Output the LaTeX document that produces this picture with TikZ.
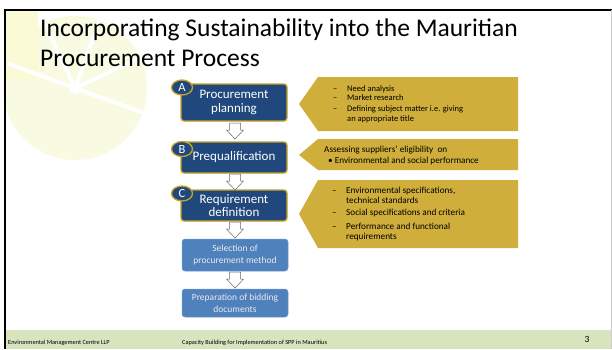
\documentclass[tikz,border=0pt]{standalone}
\usepackage{fontspec}
\setmainfont{Carlito}
\usetikzlibrary{shapes.geometric}
\definecolor{darkblue}{RGB}{33,72,125}
\definecolor{goldline}{RGB}{201,162,39}
\definecolor{lightblue}{RGB}{79,129,189}
\definecolor{calloutgold}{RGB}{207,174,59}
\definecolor{footergreen}{RGB}{215,228,189}
\definecolor{leafyellow}{RGB}{248,250,226}
\definecolor{leafyellow2}{RGB}{250,250,215}
\begin{document}
\begin{tikzpicture}[x=1pt,y=-1pt,
  darkbox/.style={draw=goldline, line width=1.3pt, fill=darkblue, rounded corners=3pt,
    text=white, align=center, font=\fontsize{13}{14.5}\selectfont, inner sep=0pt,
    minimum width=106pt},
  lightbox/.style={draw=lightblue!80!white, line width=0.5pt, fill=lightblue, rounded corners=3pt,
    text=white!92!black, align=center, font=\fontsize{9.5}{11.5}\selectfont, inner sep=0pt,
    minimum width=106pt},
  letterbadge/.style={ellipse, draw=goldline, line width=1.3pt, fill=darkblue, text=white,
    inner sep=0pt, minimum width=21pt, minimum height=15pt, font=\fontsize{12.5}{12.5}\selectfont},
  ctext/.style={anchor=base west, inner sep=0pt, text=black, font=\fontsize{8.5}{9}\selectfont},
  ctextb/.style={anchor=base west, inner sep=0pt, text=black, font=\fontsize{9.2}{10}\selectfont},
  hollowarrow/.pic={\draw[gray!80!black, fill=white, line width=0.5pt]
    (-5.5,0) -- (5.5,0) -- (5.5,7) -- (8.5,7) -- (0,16) -- (-8.5,7) -- (-5.5,7) -- cycle;},
]
\useasboundingbox (0,0) rectangle (612,349);
\fill[white] (0,0) rectangle (612,349);
% watermark leaf
\fill[leafyellow] (75,88) circle (72);
\fill[leafyellow2] (4,10) rectangle (38,80);
\foreach \a in {200,245,290,335,20}
  \draw[white, line width=4pt] (75,88) -- ++(\a:72);
\fill[white] (75,88) circle (6);
% footer
\fill[footergreen] (4,330) rectangle (612,349);
% frame
\draw[black, line width=2pt] (4.5,349) -- (4.5,9.5) -- (612,9.5);
\draw[gray!40, line width=1pt] (611,10) -- (611,349);
% title
\node[anchor=base west, inner sep=0pt, font=\fontsize{25.5}{30}\selectfont] (title1) at (40,36) {Incorporating Sustainability into the Mauritian};
\node[anchor=base west, inner sep=0pt, font=\fontsize{25.5}{30}\selectfont] (title2) at (40,66) {Procurement Process};
% callouts
\fill[calloutgold] (318,77) -- (518,77) -- (518,131) -- (318,131) -- (299,104) -- cycle;
\fill[calloutgold] (318,139) -- (518,139) -- (518,170) -- (318,170) -- (299,155) -- cycle;
\fill[calloutgold] (318,180) -- (518,180) -- (518,248) -- (318,248) -- (299,214) -- cycle;
% callout 1 text
\node[ctext] (c1a) at (333,91) {–};
\node[ctext] (c1at) at (347,91) {Need analysis};
\node[ctext] (c1b) at (333,100.5) {–};
\node[ctext] (c1bt) at (347,100.5) {Market research};
\node[ctext] (c1c) at (333,111) {–};
\node[ctext] (c1ct) at (347,111) {Defining subject matter i.e. giving};
\node[ctext] (c1dt) at (347,121) {an appropriate title};
% callout 2 text
\node[ctextb] (c2a) at (324,152) {Assessing suppliers’ eligibility\ \ on};
\node[ctextb] (c2b) at (328,163.5) {•\ Environmental and social performance};
% callout 3 text
\node[ctextb] (c3a) at (332,193) {–};
\node[ctextb] (c3at) at (346,193) {Environmental specifications,};
\node[ctextb] (c3bt) at (346,203) {technical standards};
\node[ctextb] (c3c) at (332,215.5) {–};
\node[ctextb] (c3ct) at (346,215.5) {Social specifications and criteria};
\node[ctextb] (c3d) at (332,229.5) {–};
\node[ctextb] (c3dt) at (346,229.5) {Performance and functional};
\node[ctextb] (c3et) at (346,239) {requirements};
% process boxes
\node[darkbox, minimum height=37pt] (A) at (234,102.5) {Procurement\\planning};
\node[darkbox, minimum height=31pt] (B) at (234,157.5) {Prequalification};
\node[darkbox, minimum height=31pt, font=\fontsize{13}{13.5}\selectfont] (C) at (234,205.5) {Requirement\\definition};
\node[lightbox, minimum height=32pt] (D) at (235,255) {Selection of\\procurement method};
\node[lightbox, minimum height=28pt] (E) at (235,303) {Preparation of bidding\\documents};
% badges
\node[letterbadge] (bA) at (182,87.5) {A};
\node[letterbadge] (bB) at (182,149) {B};
\node[letterbadge] (bC) at (182,193.5) {C};
% arrows
\pic at (235,123) {hollowarrow};
\pic at (235,174) {hollowarrow};
\pic at (235,222) {hollowarrow};
\pic at (235,272) {hollowarrow};
% footer text
\node[anchor=base west, inner sep=0pt, font=\fontsize{6.3}{7}\selectfont] (f1) at (8,344) {Environmental Management Centre LLP};
\node[anchor=base west, inner sep=0pt, font=\fontsize{6.3}{7}\selectfont] (f2) at (182,344) {Capacity Building for Implementation of SPP in Mauritius};
\node[anchor=base, inner sep=0pt, font=\fontsize{9.5}{10}\selectfont] (f3) at (587,342) {3};
\end{tikzpicture}
\end{document}
